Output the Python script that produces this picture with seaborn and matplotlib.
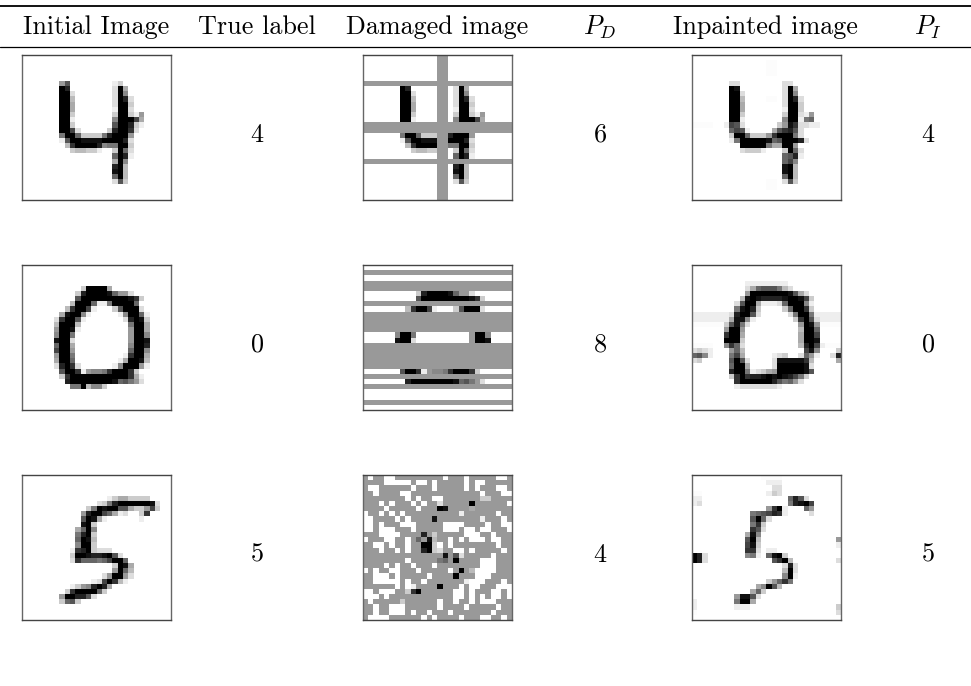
import numpy as np
import matplotlib
matplotlib.use('Agg')
import matplotlib.pyplot as plt
from matplotlib.lines import Line2D
import seaborn as sns

# digits, row -> [(first column, darkness 0-f per cell)], ',' is a very faint cell
INICIAL_4 = {
    5: [(7, "6a"), (17, "13")], 6: [(7, "fd"), (17, "2f5")], 7: [(7, "ff2"), (17, "2f7")],
    8: [(7, "ff4"), (17, "2fd2")], 9: [(7, "ff5"), (17, "2ff3")], 10: [(7, "ff5"), (17, "1ff2")],
    11: [(7, "ff3"), (17, "3ff316")], 12: [(7, "ff1"), (17, "7fffb5")], 13: [(7, "ff3"), (17, "affd31")],
    14: [(7, "ffb2"), (16, "3dffc2")], 15: [(7, "8ff933338dfff6")], 16: [(7, "1affeeeeffffd2")],
    17: [(8, "4cffffd788ff3")], 18: [(9, "344331"), (17, "3f92")], 19: [(17, "9fd1")],
    20: [(17, "5f7")], 21: [(17, "df4")], 22: [(17, "ef4")], 23: [(17, "9f4")], 24: [(17, "2a3")],
}
DANADA_4_FILAS = [5, 13, 14, 20]
DANADA_4_COLS = [14, 15]
PINTADA_4 = {
    1: [(14, ",,")], 2: [(14, ",,")], 3: [(14, ",,")],
    5: [(7, "22"), (17, "22")], 6: [(7, "fe"), (17, "2f5")], 7: [(7, "ff2"), (17, "2f7")],
    8: [(7, "ff4"), (14, ",,"), (17, "2fd2")], 9: [(7, "ff5"), (17, "2ff3")], 10: [(7, "ff5"), (17, "1ff3")],
    11: [(7, "ff3"), (17, "3ff216")], 12: [(7, "ff1"), (17, "7ff189")],
    13: [(0, ",,,,"), (6, "1ba2"), (16, "36ec2211")], 14: [(7, "9ba1"), (15, "5acda2")],
    15: [(7, "3ff93336cfff82")], 16: [(7, "18fffffe9afffd2")], 17: [(9, "fffff855ff6")],
    18: [(9, "23331"), (17, "3f92")], 19: [(17, "9ad1")], 20: [(17, "9b7")], 21: [(17, "ef4")],
    22: [(17, "ef4")], 23: [(17, "9f4")], 24: [(14, ",,"), (17, "2a3")], 25: [(14, ",,")],
}

INICIAL_0 = {
    4: [(11, "3ffff5")], 5: [(10, "3dffffe9662")], 6: [(10, "afffffffffec3")],
    7: [(9, "4fff9"), (14, "118ffff9")], 8: [(8, "4cffb1"), (17, "3afff2")],
    9: [(7, "5eff71"), (18, "17ff91")], 10: [(6, "2cffa1"), (19, "2dfe3")],
    11: [(6, "4fff4"), (20, "8ff5")], 12: [(6, "6ffe1"), (20, "6ff5")], 13: [(6, "7ff8"), (20, "6ff7")],
    14: [(6, "eff2"), (20, "6ffe")], 15: [(6, "9ff5"), (20, "7ffd")], 16: [(6, "bff6"), (20, "9ff7")],
    17: [(6, "6ff8"), (19, "1cff5")], 18: [(6, "5ff9"), (18, "15ffe4")], 19: [(6, "2dfc2"), (17, "17fff61")],
    20: [(7, "affc16778cfffc3")], 21: [(7, "3cfffffffffffc51")],
    22: [(8, "dffffffffe9a862")], 23: [(9, "88f4773")],
}
DANADA_0_FILAS = [1, 3, 4, 7, 9, 10, 11, 12, 15, 16, 17, 18, 19, 21, 23, 26]
PINTADA_0 = {
    3: [(10, "11111111")], 4: [(10, "259aaa842")], 5: [(10, "6fffffffea52")], 6: [(9, "4efeddddeffeb3")],
    7: [(8, "2aff51112"), (17, "9fff71")], 8: [(8, "8efd3"), (17, "39ffc3")],
    9: [(0, "1111111"), (7, "2dffa2"), (18, "28ff81"), (24, "1111")],
    10: [(0, "1111111"), (7, "5ee71"), (19, "3cfa2"), (24, "1111")],
    11: [(0, ",,,,,,"), (6, "3ae82"), (20, "6fe6"), (24, ",,,,")],
    12: [(6, "6ff6"), (20, "4ff9")], 13: [(6, "cff5"), (20, "5ffb")], 14: [(6, "fff3"), (20, "5ffe")],
    15: [(0, ",,,,"), (6, "7c92"), (20, "4dfb1"), (25, ",,,")],
    16: [(0, "2321"), (7, "694"), (21, "be7"), (27, "3")],
    17: [(0, "9a71"), (7, "8b5"), (15, "123"), (20, "2961"), (26, "2d")],
    18: [(0, "23"), (7, "afa2"), (15, "2eeeeec4"), (27, "5")],
    19: [(7, "9ff5"), (15, "2fffffe2")], 20: [(7, "dff812356fffffea")],
    21: [(7, "3cfcddefefedb83")], 22: [(8, "cffffffda8962")], 23: [(8, "122222221")],
}

INICIAL_5 = {
    4: [(16, "13553333")], 5: [(14, "238dffffffe2")], 6: [(12, "38feffaa5336b3")],
    7: [(11, "6dffb9512"), (22, "3c")], 8: [(11, "afe51"), (22, "1")], 9: [(11, "ef3")],
    10: [(10, "59f7")], 11: [(10, "8df3")], 12: [(10, "9fe4")], 13: [(10, "7ff3")],
    14: [(9, "1cdf3222")], 15: [(9, "3ffeddefa2")], 16: [(9, "2c99989bff9")],
    17: [(17, "3fe5")], 18: [(17, "6f94")], 19: [(15, "26ff62")], 20: [(13, "12bfc41")],
    21: [(9, "1367dfd5")], 22: [(8, "3cffff93")], 23: [(7, "6ffdda2")], 24: [(7, "39a3")],
}
# cells of the third damaged image that stayed open, all others are grey
ABIERTAS_5 = {
    0: [1, 4, 5, 15, 19, 25, 26], 1: [4, 5, 6, 7, 8, 10, 11, 13, 19, 21, 22], 2: [1, 2, 9, 13, 19, 21, 25, 26],
    3: [2, 7, 8, 22, 26, 27], 4: [8, 10, 13, 14, 22, 23], 5: [3, 5, 9, 11, 14, 20, 27],
    6: [4, 10, 14, 15, 20], 7: [0, 3, 5, 7, 11, 18, 25], 8: [0, 1, 6, 8, 13, 22, 26],
    9: [0, 1, 3, 7, 8, 9, 15, 16, 17, 18, 23, 26, 27], 10: [0, 1, 3, 4, 5, 9, 15, 16, 17, 19, 20, 22, 23, 27],
    11: [3, 4, 5, 6, 11, 13, 19, 20, 21, 24], 12: [0, 4, 5, 8, 10, 12, 13, 16, 18, 20, 21, 22, 24, 25],
    13: [2, 3, 5, 8, 11, 12, 13, 14, 16, 25], 14: [3, 6, 8, 11, 12, 13, 14, 17, 18, 20, 26],
    15: [15, 17, 18, 24], 16: [8, 14, 15, 17, 22, 23, 24], 17: [4, 6, 9, 13, 22, 23, 24],
    18: [0, 2, 5, 6, 10, 16, 17, 18, 20, 21, 22, 23, 24], 19: [2, 3, 4, 6, 12, 17, 19, 21, 22, 23],
    20: [2, 3, 4, 5, 6, 8, 11, 19, 20, 21, 22, 26], 21: [6, 8, 9, 14, 18, 20, 21, 25, 26, 27],
    22: [0, 1, 3, 4, 5, 8, 9, 10, 17, 18, 20, 24, 25, 27], 23: [0, 1, 2, 4, 17, 18, 20, 22, 24, 25, 27],
    24: [1, 7, 14, 17, 20, 22, 23, 24], 25: [2, 5, 6, 7, 14, 19, 25], 26: [2, 5, 6, 7, 9, 12, 16, 24],
    27: [1, 2, 3, 4, 11, 13, 18, 22, 23, 26],
}
PINTADA_5 = {
    0: [(13, ",,,,")], 1: [(14, "111")], 2: [(15, "22")], 3: [(0, ",,"), (14, "132")],
    4: [(0, "11"), (18, "9da2")], 5: [(0, "12"), (18, "8defb")], 6: [(14, "6cf1"), (21, "96")],
    7: [(11, "89abdc1"), (22, "2")], 8: [(11, "af92")], 9: [(11, "8c3")], 10: [(11, "ca2")],
    11: [(10, "5e7")], 12: [(10, "af4"), (27, "6")], 13: [(10, "be3"), (27, "1")], 14: [(10, "cc2"), (14, "11")],
    15: [(0, "fd2"), (10, "781"), (14, "9ef3")], 16: [(0, "fd2"), (15, "acf4"), (27, "2")],
    17: [(17, "2d2")], 18: [(17, "4f2")], 19: [(17, "7f1")], 20: [(14, "369c8")],
    21: [(12, "57fa4")], 22: [(11, "593")], 23: [(8, "6eea2")], 24: [(0, "1"), (8, "8ff5")],
    25: [(0, "1"), (8, "111"), (27, "3")], 26: [(0, ","), (27, "2")],
}

ENCABEZADOS = ["Initial Image", "True label", "Damaged image", "$P_D$", "Inpainted image", "$P_I$"]
ENCABEZADOS_X = [96, 257, 437, 600, 765, 928]
ETIQUETAS = ["4", "0", "5"]
PRED_DANADA = ["6", "8", "4"]
PRED_PINTADA = ["4", "0", "5"]

W, H = 971, 686
FILAS_Y = [55, 265, 475]
COLS_X = [(22, 171), (362.5, 512), (691.5, 841)]
ALTO = 145
GRIS = 0.4  # same grey as the masked cells in the source picture


def rejilla(filas):
    img = np.zeros((28, 28))
    for fila, tramos in filas.items():
        for col, valores in tramos:
            for i, ch in enumerate(valores):
                img[fila, col + i] = 0.015 if ch == ',' else int(ch, 16) / 15
    return img


def tachar_filas(img, filas, cols=()):
    img = img.copy()
    img[list(filas), :] = GRIS
    if len(cols):
        img[:, list(cols)] = GRIS
    return img


def tachar_celdas(img, abiertas):
    out = np.full((28, 28), GRIS)
    for fila, cols in abiertas.items():
        out[fila, cols] = img[fila, cols]
    return out


def dibujar(fig, img, x0, x1, y0):
    ax = fig.add_axes([x0 / W, 1 - (y0 + ALTO) / H, (x1 - x0) / W, ALTO / H])
    sns.heatmap(img, ax=ax, cmap='gray_r', vmin=0, vmax=1, cbar=False,
                xticklabels=False, yticklabels=False)
    for lado, spine in ax.spines.items():
        spine.set_visible(True)
        spine.set_color('#444444' if lado in ('top', 'bottom') else '#666666')
        spine.set_linewidth(1.0)


def texto(fig, x, y, s):
    fig.text(x / W, 1 - y / H, s, ha='center', va='center', fontsize=18.8, color='black')


sns.set_theme(style='white')
plt.rcParams['font.family'] = ['cmr10', 'DejaVu Serif']
plt.rcParams['mathtext.fontset'] = 'cm'
plt.rcParams['axes.unicode_minus'] = False

fig = plt.figure(figsize=(W / 100, H / 100), dpi=100)
fig.patch.set_facecolor('white')

inicial = [rejilla(INICIAL_4), rejilla(INICIAL_0), rejilla(INICIAL_5)]
danada = [tachar_filas(inicial[0], DANADA_4_FILAS, DANADA_4_COLS),
          tachar_filas(inicial[1], DANADA_0_FILAS),
          tachar_celdas(inicial[2], ABIERTAS_5)]
pintada = [rejilla(PINTADA_4), rejilla(PINTADA_0), rejilla(PINTADA_5)]

for i, y in enumerate(FILAS_Y):
    dibujar(fig, inicial[i], COLS_X[0][0], COLS_X[0][1], y)
    dibujar(fig, danada[i], COLS_X[1][0], COLS_X[1][1], y)
    dibujar(fig, pintada[i], COLS_X[2][0], COLS_X[2][1], y)
    centro = y + 80
    texto(fig, ENCABEZADOS_X[1], centro, ETIQUETAS[i])
    texto(fig, ENCABEZADOS_X[3], centro, PRED_DANADA[i])
    texto(fig, ENCABEZADOS_X[5], centro, PRED_PINTADA[i])

for x, s in zip(ENCABEZADOS_X, ENCABEZADOS):
    texto(fig, x, 27, s)

fig.add_artist(Line2D([0, 1], [1 - 6 / H, 1 - 6 / H], color='black', lw=1.3))
fig.add_artist(Line2D([0, 1], [1 - 47 / H, 1 - 47 / H], color='black', lw=0.9))

fig.savefig('out.png', dpi=100)
